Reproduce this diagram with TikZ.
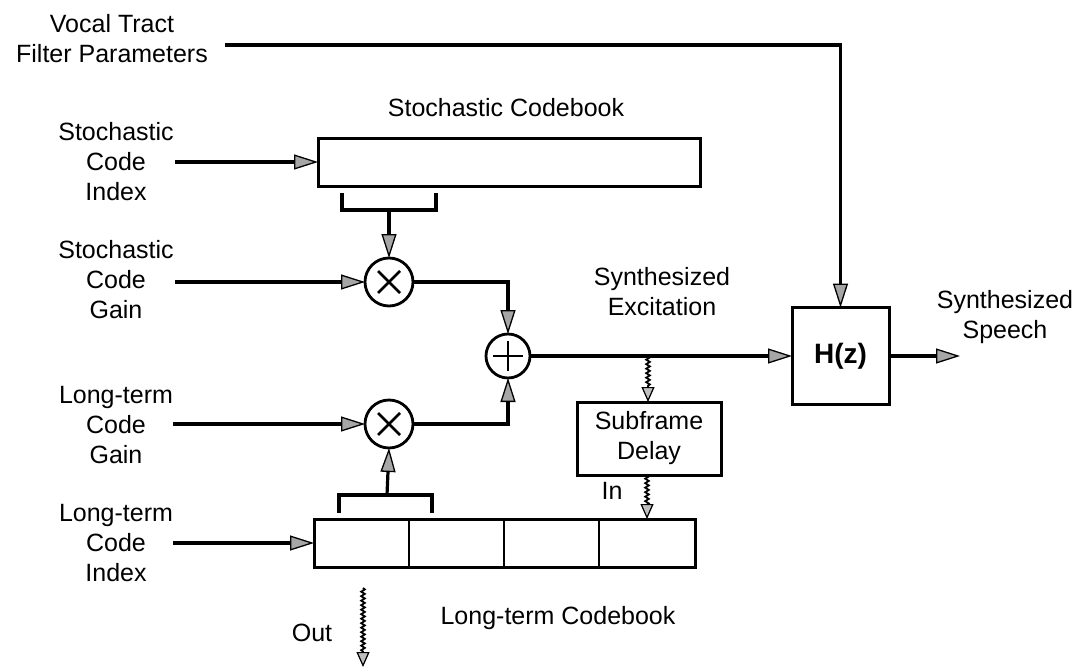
\documentclass[tikz,border=0pt]{standalone}
\usepackage{fontspec}
\setmainfont{Liberation Sans}
\usetikzlibrary{arrows.meta,decorations.pathmorphing}
\begin{document}
\begin{tikzpicture}[x=1pt,y=-1pt,
  every node/.style={inner sep=0pt, outer sep=0pt},
  lbl/.style={align=center, font=\fontsize{25}{30}\selectfont},
  blk/.style={draw, line width=3pt, rectangle},
  op/.style={draw, line width=2.8pt, circle},
  wire/.style={line width=3.2pt},
  arr/.style={wire, -{Triangle[length=24pt,width=15pt,fill=gray!70,line width=1.3pt]}},
  wavy/.style={line width=1.8pt, decorate, decoration={snake, amplitude=1.8pt, segment length=4.5pt, post length=14pt},
    -{Triangle[length=15pt,width=13pt,fill=gray!50,line width=1.2pt]}},
]
\useasboundingbox (0,0) rectangle (1091,669);

% blocks
\node[blk, minimum width=382pt, minimum height=48pt] (sbook) at (509,162) {};
\node[blk, minimum width=381pt, minimum height=48pt] (ltbook) at (504.5,543) {};
\node[blk, minimum width=97pt, minimum height=97pt] (hz) at (840.5,356) {\fontsize{28}{30}\selectfont\bfseries H(z)};
\node[blk, minimum width=144pt, minimum height=73pt, lbl] (delay) at (649,438.5) {Subframe\\Delay};
\node[op, minimum size=48pt] (mul1) at (389,282) {};
\node[op, minimum size=48pt] (mul2) at (389,424) {};
\node[op, minimum size=44pt] (add) at (508,356) {};

% operator symbols
\foreach \m in {mul1,mul2}{
  \draw[line width=2.8pt] ([shift={(-11,-11)}]\m.center) -- ([shift={(11,11)}]\m.center);
  \draw[line width=2.8pt] ([shift={(-11,11)}]\m.center) -- ([shift={(11,-11)}]\m.center);
}
\draw[line width=2.8pt] ([xshift=-15pt]add.center) -- ([xshift=15pt]add.center);
\draw[line width=2.8pt] ([yshift=-15pt]add.center) -- ([yshift=15pt]add.center);

% long-term codebook cells
\draw[line width=2.4pt] (409,519) -- (409,567);
\draw[line width=2.4pt] (504,519) -- (504,567);
\draw[line width=2.4pt] (599,519) -- (599,567);

% brackets
\draw[wire] (342,193) -- (342,210) -- (436,210) -- (436,193);
\coordinate (sbr) at (389,210);
\draw[wire] (339,513) -- (339,495) -- (432,495) -- (432,513);
\coordinate (lbr) at (387,495);

% labels
\node[lbl] (vt) at (112,39) {Vocal Tract\\Filter Parameters};
\node[lbl] (sci) at (116,162) {Stochastic\\Code\\Index};
\node[lbl] (scg) at (116,280) {Stochastic\\Code\\Gain};
\node[lbl] (lcg) at (116,425) {Long-term\\Code\\Gain};
\node[lbl] (lci) at (116,543) {Long-term\\Code\\Index};
\node[lbl] (sbt) at (506,108) {Stochastic Codebook};
\node[lbl] (ltt) at (558,618) {Long-term Codebook};
\node[lbl] (sex) at (662,292) {Synthesized\\Excitation};
\node[lbl] (ssp) at (1005,317) {Synthesized\\Speech};
\node[lbl] (inl) at (612,491) {In};
\node[lbl] (outl) at (312,633) {Out};

% free ends
\coordinate (vtin) at (225,45);
\coordinate (sciin) at (175,162);
\coordinate (scgin) at (175,282);
\coordinate (lcgin) at (173,424);
\coordinate (lciin) at (173,543);
\coordinate (spout) at (960,356);
\coordinate (tap) at (648,356);
\coordinate (dout) at (647,475);
\coordinate (outa) at (363,588);
\coordinate (outb) at (363,667);

% connectors
\draw[arr] (vtin) -| (hz.north);
\draw[arr] (sciin) -- (sbook.west);
\draw[arr] (scgin) -- (mul1.west);
\draw[arr] (lcgin) -- (mul2.west);
\draw[arr] (lciin) -- (ltbook.west);
\draw[arr] (sbr) -- (mul1.north);
\draw[arr] (lbr) -- (mul2.south);
\draw[arr] (mul1.east) -| (add.north);
\draw[arr] (mul2.east) -| (add.south);
\draw[arr] (add.east) -- (hz.west);
\draw[arr] (hz.east) -- (spout);
\draw[wavy] (tap) -- (delay.north -| tap);
\draw[wavy] (dout) -- (ltbook.north -| dout);
\draw[wavy] (outa) -- (outb);
\end{tikzpicture}
\end{document}
